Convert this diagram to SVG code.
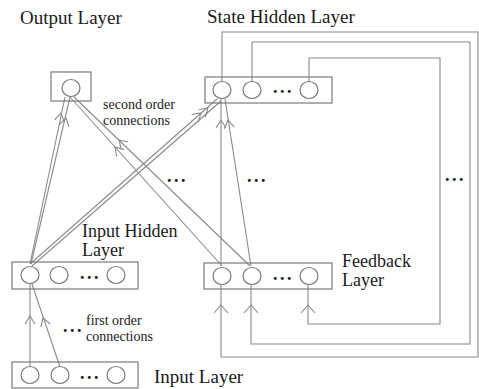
<svg xmlns="http://www.w3.org/2000/svg" xmlns:xlink="http://www.w3.org/1999/xlink" width="479" height="389" viewBox="0 0 479 389">
  <style>
    .box { fill: none; stroke: #7a7a7a; stroke-width: 1.2; }
    .unit { fill: none; stroke: #7a7a7a; stroke-width: 1.2; }
    .wire { fill: none; stroke: #8a8a8a; stroke-width: 1.1; }
    .head { fill: none; stroke: #8a8a8a; stroke-width: 1.1; }
    .label { font-family: "Liberation Serif", "Times New Roman", serif; font-size: 19px; fill: #1a1a1a; }
    .label2 { font-family: "Liberation Serif", "Times New Roman", serif; font-size: 18px; fill: #1a1a1a; }
    .note { font-family: "Liberation Serif", "Times New Roman", serif; font-size: 14px; fill: #1a1a1a; }
    .dots { font-family: "Liberation Serif", "Times New Roman", serif; font-size: 18px; font-weight: bold; fill: #1a1a1a; letter-spacing: 2.5px; }
  </style>
  <defs>
    <path id="chev" d="M-5,8 L0,0 L5,8"/>
    <path id="chevWide" d="M-7,8 L0,0 L7,8"/>
  </defs>

  <!-- connectors -->
  <g id="connectors">
    <!-- first order: input layer to input hidden layer -->
    <line class="wire" x1="30" y1="367" x2="30" y2="284"/>
    <line class="wire" x1="60" y1="367" x2="32" y2="284"/>
    <use xlink:href="#chev" class="head" transform="translate(30,316)"/>
    <use xlink:href="#chev" class="head" transform="translate(43,318) rotate(-18.6)"/>

    <!-- second order: input hidden unit to output unit -->
    <line class="wire" x1="30" y1="264" x2="65" y2="97"/>
    <line class="wire" x1="31" y1="264" x2="70" y2="97"/>
    <use xlink:href="#chev" class="head" transform="translate(61,113) rotate(11.8)"/>
    <use xlink:href="#chev" class="head" transform="translate(66,118) rotate(13.1)"/>

    <!-- second order: feedback units to output unit -->
    <line class="wire" x1="222" y1="266" x2="70" y2="97"/>
    <line class="wire" x1="250" y1="266" x2="74" y2="97"/>
    <use xlink:href="#chev" class="head" transform="translate(115,147) rotate(-42)"/>
    <use xlink:href="#chev" class="head" transform="translate(119,140) rotate(-46.2)"/>

    <!-- second order: input hidden unit to state unit -->
    <line class="wire" x1="30" y1="264" x2="217" y2="99"/>
    <line class="wire" x1="32" y1="266" x2="221" y2="101"/>
    <use xlink:href="#chev" class="head" transform="translate(201,113) rotate(48.6)"/>
    <use xlink:href="#chev" class="head" transform="translate(208,108) rotate(48.8)"/>

    <!-- second order: feedback units to state unit -->
    <line class="wire" x1="221" y1="266" x2="221" y2="99"/>
    <line class="wire" x1="251" y1="266" x2="225" y2="99"/>
    <use xlink:href="#chev" class="head" transform="translate(221,120)"/>
    <use xlink:href="#chev" class="head" transform="translate(228,120) rotate(-8.85)"/>

    <!-- recurrent loops: state units copied back to feedback units -->
    <polyline class="wire" points="222,81 222,32 478,32 478,357 221,357 221,285"/>
    <polyline class="wire" points="252,81 252,42 470,42 470,344 251,344 251,285"/>
    <polyline class="wire" points="309,81 309,58 440,58 440,324 308,324 308,285"/>
    <use xlink:href="#chevWide" class="head" transform="translate(221,305)"/>
    <use xlink:href="#chevWide" class="head" transform="translate(251,305)"/>
    <use xlink:href="#chevWide" class="head" transform="translate(308,305)"/>

    <!-- ellipses between connections -->
    <text class="dots" x="167" y="182">...</text>
    <text class="dots" x="247" y="182">...</text>
    <text class="dots" x="445" y="181">...</text>
    <text class="dots" x="63" y="332">...</text>
  </g>

  <!-- output layer -->
  <g id="output-layer">
    <rect class="box" x="51" y="72" width="40" height="29"/>
    <ellipse class="unit" cx="71" cy="88" rx="9" ry="8.5"/>
    <text class="label" x="20" y="24">Output Layer</text>
  </g>

  <!-- state hidden layer -->
  <g id="state-hidden-layer">
    <rect class="box" x="205" y="77" width="127" height="26"/>
    <ellipse class="unit" cx="222" cy="90" rx="9" ry="8.5"/>
    <ellipse class="unit" cx="252" cy="90" rx="9" ry="8.5"/>
    <ellipse class="unit" cx="309" cy="90" rx="9" ry="8.5"/>
    <text class="dots" x="273" y="93">...</text>
    <text class="label" x="207" y="23">State Hidden Layer</text>
  </g>

  <!-- input hidden layer -->
  <g id="input-hidden-layer">
    <rect class="box" x="12" y="262" width="126" height="27"/>
    <ellipse class="unit" cx="30" cy="275" rx="9" ry="8.5"/>
    <ellipse class="unit" cx="59" cy="275" rx="9" ry="8.5"/>
    <ellipse class="unit" cx="116" cy="275" rx="9" ry="8.5"/>
    <text class="dots" x="80" y="279">...</text>
    <text class="label2" x="82" y="237">Input Hidden</text>
    <text class="label2" x="82" y="256">Layer</text>
  </g>

  <!-- feedback layer -->
  <g id="feedback-layer">
    <rect class="box" x="204" y="263" width="128" height="26"/>
    <ellipse class="unit" cx="222" cy="276" rx="9" ry="8.5"/>
    <ellipse class="unit" cx="252" cy="276" rx="9" ry="8.5"/>
    <ellipse class="unit" cx="309" cy="276" rx="9" ry="8.5"/>
    <text class="dots" x="273" y="280">...</text>
    <text class="label2" x="342" y="267">Feedback</text>
    <text class="label2" x="342" y="286">Layer</text>
  </g>

  <!-- input layer -->
  <g id="input-layer">
    <rect class="box" x="12" y="362" width="126" height="26"/>
    <ellipse class="unit" cx="30" cy="375" rx="9" ry="8.5"/>
    <ellipse class="unit" cx="60" cy="375" rx="9" ry="8.5"/>
    <ellipse class="unit" cx="116" cy="375" rx="9" ry="8.5"/>
    <text class="dots" x="80" y="379">...</text>
    <text class="label" x="154" y="383">Input Layer</text>
  </g>

  <!-- connection annotations -->
  <g id="annotations">
    <text class="note" x="103" y="109">second order</text>
    <text class="note" x="103" y="125">connections</text>
    <text class="note" x="86" y="325">first order</text>
    <text class="note" x="86" y="341">connections</text>
  </g>
</svg>
